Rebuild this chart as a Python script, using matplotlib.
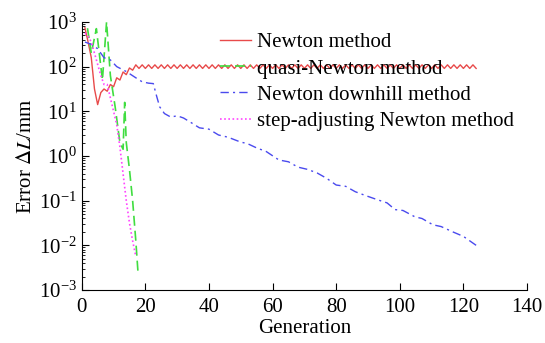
import matplotlib
matplotlib.use('Agg')
import matplotlib.pyplot as plt
from matplotlib.ticker import NullFormatter

plt.rcParams['font.family'] = ['Liberation Serif', 'DejaVu Serif']
plt.rcParams['mathtext.fontset'] = 'stix'

# Newton method (one value per generation, log10 of error)
newton_gen = list(range(1, 125))
newton_log = [2.87, 2.55, 2.2, 1.5, 1.15, 1.42, 1.5, 1.45, 1.6, 1.55,
              1.75, 1.7, 1.88, 1.82, 1.97, 1.92, 2.04, 1.96, 2.04, 1.96,
              2.04, 1.96, 2.04, 1.96, 2.04, 1.96, 2.04, 1.96, 2.04, 1.96,
              2.04, 1.96, 2.04, 1.96, 2.04, 1.96, 2.04, 1.96, 2.04, 1.96,
              2.04, 1.96, 2.04, 1.96, 2.04, 1.96, 2.04, 1.96, 2.04, 1.96,
              2.04, 1.96, 2.04, 1.96, 2.04, 1.96, 2.04, 1.96, 2.04, 1.96,
              2.04, 1.96, 2.04, 1.96, 2.04, 1.96, 2.04, 1.96, 2.04, 1.96,
              2.04, 1.96, 2.04, 1.96, 2.04, 1.96, 2.04, 1.96, 2.04, 1.96,
              2.04, 1.96, 2.04, 1.96, 2.04, 1.96, 2.04, 1.96, 2.04, 1.96,
              2.04, 1.96, 2.04, 1.96, 2.04, 1.96, 2.04, 1.96, 2.04, 1.96,
              2.04, 1.96, 2.04, 1.96, 2.04, 1.96, 2.04, 1.96, 2.04, 1.96,
              2.04, 1.96, 2.04, 1.96, 2.04, 1.96, 2.04, 1.96, 2.04, 1.96,
              2.04, 1.96, 2.04, 1.96]

# quasi-Newton method
quasi_gen = [1.8, 3, 4.6, 6.5, 7.8, 9, 10.5, 12, 13, 13.5, 14, 15, 16, 17, 17.7]
quasi_log = [2.86, 2.3, 2.85, 1.7, 3.0, 1.8, 1.1, 0.3, 0.15, 1.2, 0.3, -0.3,
             -1.0, -1.9, -2.62]

# Newton downhill method
down_gen = [1, 3, 5, 7, 9, 11, 14, 17, 19, 21, 22.5, 23.5, 24.5, 26, 28, 30,
            32, 35, 37, 40, 43, 46, 50, 52, 55, 58, 62, 65, 68, 71, 74, 77,
            80, 83, 86, 89, 93, 96, 98.5, 101, 104.7, 107, 110.4, 113, 116.7,
            120, 123, 124]
down_log = [2.55, 2.5, 2.4, 2.2, 2.15, 2.0, 1.89, 1.75, 1.66, 1.63, 1.62,
            1.35, 1.1, 0.95, 0.87, 0.9, 0.85, 0.72, 0.63, 0.6, 0.47, 0.42,
            0.31, 0.28, 0.18, 0.1, -0.09, -0.13, -0.25, -0.3, -0.38, -0.5,
            -0.65, -0.68, -0.8, -0.88, -0.98, -1.05, -1.2, -1.22, -1.36,
            -1.4, -1.54, -1.58, -1.7, -1.8, -1.95, -2.0]

# step-adjusting Newton method
step_gen = list(range(1, 18))
step_log = [2.75, 2.68, 2.55, 2.3, 2.05, 1.8, 1.6, 1.6, 1.3, 1.0, 0.7, 0.2,
            -0.4, -1.0, -1.5, -1.9, -2.25]

fig = plt.figure(figsize=(5.45, 3.43), dpi=100)
ax = fig.add_axes([0.150, 0.1545, 0.817, 0.7815])

ax.plot(newton_gen, [10 ** v for v in newton_log], color='#e84a4a', lw=1.0,
        ls='-', label='Newton method')
ax.plot(quasi_gen, [10 ** v for v in quasi_log], color='#40dd40', lw=1.2,
        ls=(0, (6, 3)), label='quasi-Newton method')
ax.plot(down_gen, [10 ** v for v in down_log], color='#4a4aee', lw=1.0,
        ls=(0, (6, 3, 1.5, 3)), label='Newton downhill method')
ax.plot(step_gen, [10 ** v for v in step_log], color='#ff44ff', lw=1.2,
        ls=(0, (1, 1.5)), label='step-adjusting Newton method')

ax.set_yscale('log')
ax.set_xlim(0, 140)
ax.set_ylim(1e-3, 1e3)
ax.set_xticks([0, 20, 40, 60, 80, 100, 120, 140])
ax.yaxis.set_minor_formatter(NullFormatter())
ax.spines['top'].set_visible(False)
ax.spines['right'].set_visible(False)
ax.tick_params(which='both', direction='in', labelsize=15)
ax.tick_params(axis='x', pad=6)
ax.tick_params(which='major', length=5)
ax.tick_params(which='minor', length=2.5)
ax.set_xlabel('Generation', fontsize=15, labelpad=1)
ax.set_ylabel('Error $\\Delta L$/mm', fontsize=15, labelpad=2)

ax.legend(loc='upper left', bbox_to_anchor=(0.31, 0.96), frameon=False,
          fontsize=15, handlelength=1.5, handletextpad=0.3, labelspacing=0.32,
          borderpad=0, borderaxespad=0)

fig.savefig('out.png', dpi=100)
